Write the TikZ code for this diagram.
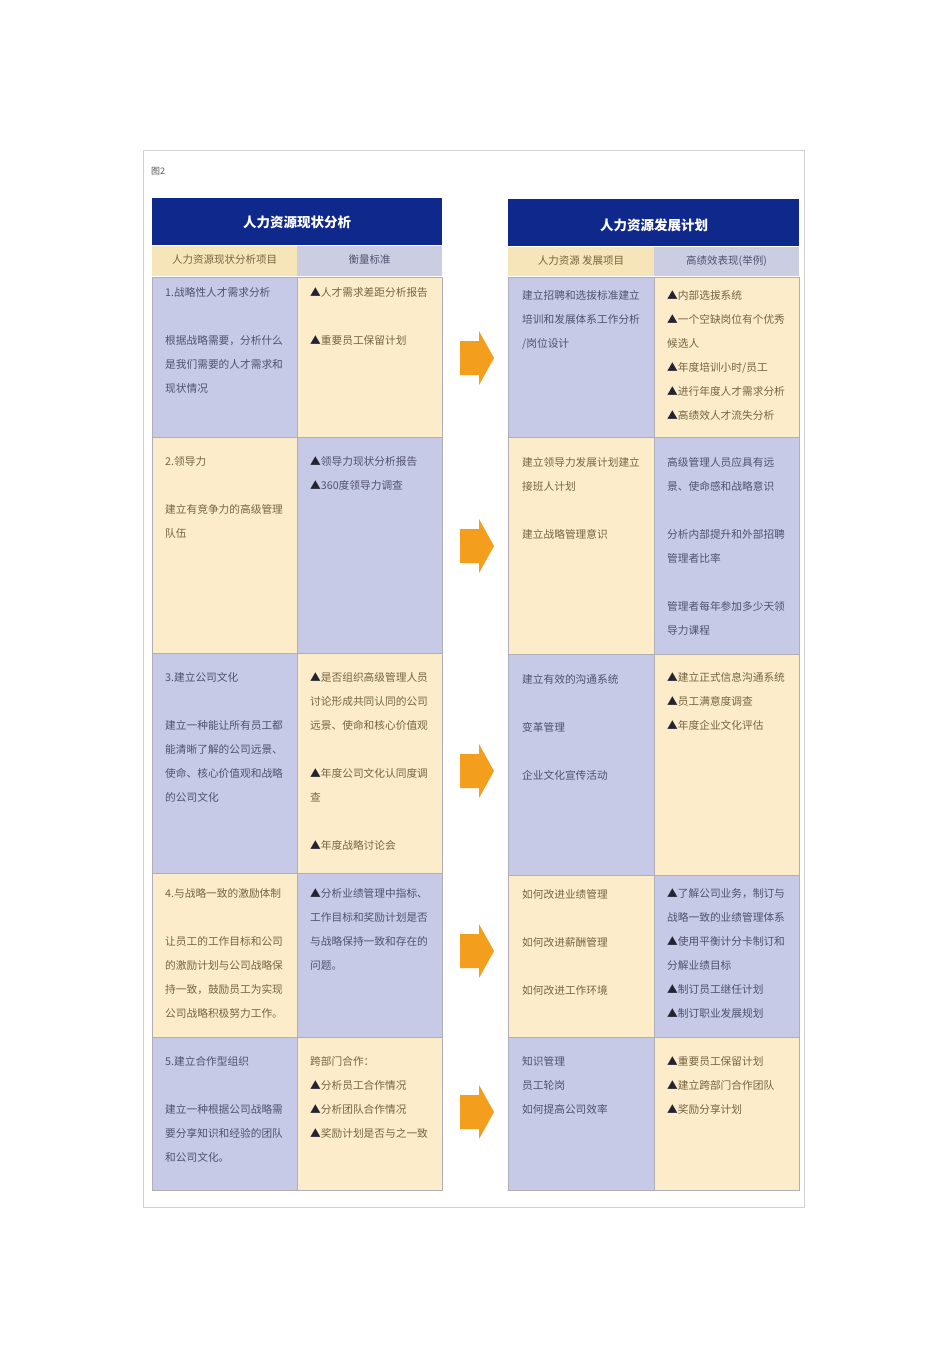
\documentclass[tikz,border=0pt]{standalone}
\usepackage{fontspec}
\setmainfont{Noto Sans CJK SC}
\definecolor{navy}{RGB}{14,40,140}
\definecolor{lav}{RGB}{199,202,230}
\definecolor{crm}{RGB}{252,236,201}
\definecolor{subcrm}{RGB}{246,229,184}
\definecolor{sublav}{RGB}{203,205,226}
\definecolor{lavtxt}{RGB}{80,80,112}
\definecolor{crmtxt}{RGB}{118,100,66}
\definecolor{tricol}{RGB}{35,35,50}
\definecolor{arrowor}{RGB}{243,158,28}
\definecolor{framegray}{RGB}{210,210,210}
\definecolor{gridline}{RGB}{178,174,184}
\newcommand{\tria}{{\color{tricol}▲}}
\begin{document}
\begin{tikzpicture}[x=1pt,y=-1pt,
  txt/.style={anchor=north west, inner sep=0pt, align=left, font=\fontsize{10.7}{24}\selectfont},
  ltxt/.style={txt, text=lavtxt},
  ctxt/.style={txt, text=crmtxt},
  lavcell/.style={fill=lav, draw=gridline, line width=0.8pt},
  crmcell/.style={fill=crm, draw=gridline, line width=0.8pt},
  headtxt/.style={text=white, font=\fontsize{13.5}{16}\selectfont\bfseries, inner sep=0pt},
  subtxt/.style={font=\fontsize{10.5}{12}\selectfont, inner sep=0pt},
  orarrow/.style={fill=arrowor}]
\useasboundingbox (0,0) rectangle (950,1345);
\fill[white] (0,0) rectangle (950,1345);
\draw[framegray, line width=0.8pt] (143,150) rectangle (804,1207);
\node[font=\fontsize{9}{10}\selectfont, text=black!65, inner sep=0pt] (fig) at (158,171) {图2};

% headers
\fill[navy] (152,198) rectangle (442,245);
\fill[navy] (508,199) rectangle (799,246);
\node[headtxt] (h1) at (297,222) {人力资源现状分析};
\node[headtxt] (h2) at (654,225) {人力资源发展计划};
\fill[subcrm] (152,246) rectangle (297,276);
\fill[sublav] (297,246) rectangle (442,276);
\fill[subcrm] (508,247) rectangle (654,276);
\fill[sublav] (654,247) rectangle (799,276);
\node[subtxt, text=crmtxt] (s1) at (224.5,260) {人力资源现状分析项目};
\node[subtxt, text=lavtxt] (s2) at (369.5,260) {衡量标准};
\node[subtxt, text=crmtxt] (s3) at (581,261) {人力资源\ 发展项目};
\node[subtxt, text=lavtxt] (s4) at (726.5,261) {高绩效表现(举例)};

% cells, left table
\path[lavcell] (152,277) rectangle (297,437);
\path[crmcell] (297,277) rectangle (442,437);
\path[crmcell] (152,437) rectangle (297,653);
\path[lavcell] (297,437) rectangle (442,653);
\path[lavcell] (152,653) rectangle (297,873);
\path[crmcell] (297,653) rectangle (442,873);
\path[crmcell] (152,873) rectangle (297,1037);
\path[lavcell] (297,873) rectangle (442,1037);
\path[lavcell] (152,1037) rectangle (297,1190);
\path[crmcell] (297,1037) rectangle (442,1190);
% cells, right table
\path[lavcell] (508,277) rectangle (654,437);
\path[crmcell] (654,277) rectangle (799,437);
\path[crmcell] (508,437) rectangle (654,654);
\path[lavcell] (654,437) rectangle (799,654);
\path[lavcell] (508,654) rectangle (654,875);
\path[crmcell] (654,654) rectangle (799,875);
\path[crmcell] (508,875) rectangle (654,1037);
\path[lavcell] (654,875) rectangle (799,1037);
\path[lavcell] (508,1037) rectangle (654,1190);
\path[crmcell] (654,1037) rectangle (799,1190);

% arrows
\foreach \c in {358,546,771,951,1112}{
  \fill[orarrow] (460,\c-17) -- (479,\c-17) -- (479,\c-27) -- (494,\c) -- (479,\c+27) -- (479,\c+17) -- (460,\c+17) -- cycle;
}

% row 1
\node[ltxt] (r1a) at (165,287) {1.战略性人才需求分析\\[24pt]根据战略需要，分析什么\\是我们需要的人才需求和\\现状情况};
\node[ctxt] (r1b) at (310,287) {\tria 人才需求差距分析报告\\[24pt]\tria 重要员工保留计划};
\node[ltxt] (r1c) at (522,290) {建立招聘和选拔标准建立\\培训和发展体系工作分析\\/岗位设计};
\node[ctxt] (r1d) at (667,290) {\tria 内部选拔系统\\\tria 一个空缺岗位有个优秀\\候选人\\\tria 年度培训小时/员工\\\tria 进行年度人才需求分析\\\tria 高绩效人才流失分析};

% row 2
\node[ctxt] (r2a) at (165,456) {2.领导力\\[24pt]建立有竞争力的高级管理\\队伍};
\node[ltxt] (r2b) at (310,456) {\tria 领导力现状分析报告\\\tria 360度领导力调查};
\node[ctxt] (r2c) at (522,457) {建立领导力发展计划建立\\接班人计划\\[24pt]建立战略管理意识};
\node[ltxt] (r2d) at (667,457) {高级管理人员应具有远\\景、使命感和战略意识\\[24pt]分析内部提升和外部招聘\\管理者比率\\[24pt]管理者每年参加多少天领\\导力课程};

% row 3
\node[ltxt] (r3a) at (165,672) {3.建立公司文化\\[24pt]建立一种能让所有员工都\\能清晰了解的公司远景、\\使命、核心价值观和战略\\的公司文化};
\node[ctxt] (r3b) at (310,672) {\tria 是否组织高级管理人员\\讨论形成共同认同的公司\\远景、使命和核心价值观\\[24pt]\tria 年度公司文化认同度调\\查\\[24pt]\tria 年度战略讨论会};
\node[ltxt] (r3c) at (522,674) {建立有效的沟通系统\\[24pt]变革管理\\[24pt]企业文化宣传活动};
\node[ctxt] (r3d) at (667,672) {\tria 建立正式信息沟通系统\\\tria 员工满意度调查\\\tria 年度企业文化评估};

% row 4
\node[ctxt] (r4a) at (165,888) {4.与战略一致的激励体制\\[24pt]让员工的工作目标和公司\\的激励计划与公司战略保\\持一致，鼓励员工为实现\\公司战略积极努力工作。};
\node[ltxt] (r4b) at (310,888) {\tria 分析业绩管理中指标、\\工作目标和奖励计划是否\\与战略保持一致和存在的\\问题。};
\node[ctxt] (r4c) at (522,889) {如何改进业绩管理\\[24pt]如何改进薪酬管理\\[24pt]如何改进工作环境};
\node[ltxt] (r4d) at (667,888) {\tria 了解公司业务，制订与\\战略一致的业绩管理体系\\\tria 使用平衡计分卡制订和\\分解业绩目标\\\tria 制订员工继任计划\\\tria 制订职业发展规划};

% row 5
\node[ltxt] (r5a) at (165,1056) {5.建立合作型组织\\[24pt]建立一种根据公司战略需\\要分享知识和经验的团队\\和公司文化。};
\node[ctxt] (r5b) at (310,1056) {跨部门合作：\\\tria 分析员工合作情况\\\tria 分析团队合作情况\\\tria 奖励计划是否与之一致};
\node[ltxt] (r5c) at (522,1056) {知识管理\\员工轮岗\\如何提高公司效率};
\node[ctxt] (r5d) at (667,1056) {\tria 重要员工保留计划\\\tria 建立跨部门合作团队\\\tria 奖励分享计划};
\end{tikzpicture}
\end{document}
